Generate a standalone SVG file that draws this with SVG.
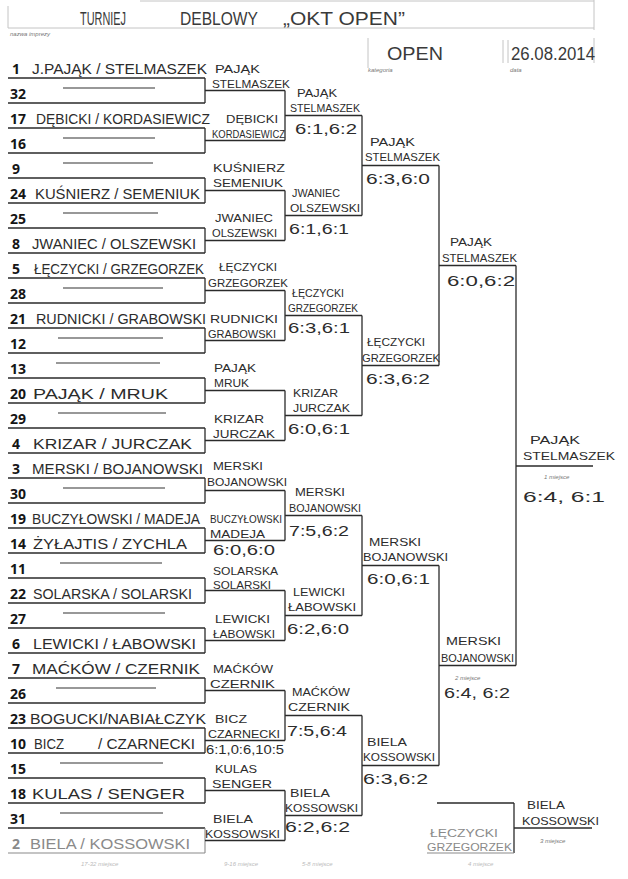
<svg xmlns="http://www.w3.org/2000/svg" width="628" height="879" viewBox="0 0 628 879">
<style>
.ln{stroke:#2b2b2b;stroke-width:1.3;fill:none}
.lg{stroke:#8a8a8a;stroke-width:1.1;fill:none}
.lf{stroke:#c4c4c4;stroke-width:1;fill:none}
.dash{stroke:#333;stroke-width:1.1}
text{font-family:"Liberation Sans","DejaVu Sans",sans-serif;fill:#2c2c2c}
.sd{font-family:"Open Sans","Liberation Sans",sans-serif;font-weight:bold;font-size:14px;fill:#151515}
.nm{font-size:14px}
.wl{font-size:11.5px}
.sc{font-size:15px}
.big{font-size:18px;fill:#3a3a3a}
.tiny{font-size:6px;font-style:italic;fill:#777}
.faint{font-size:6px;font-style:italic;fill:#bbb}
.gray{fill:#8a8a8a}
</style>
<g id="header">
<path class="lf" d="M140 1H594M8 6V28M8 28H594M594 0V30"/>
<text class="big" x="80" y="25" textLength="46" lengthAdjust="spacingAndGlyphs">TURNIEJ</text>
<text class="big" x="180" y="25" textLength="78" lengthAdjust="spacingAndGlyphs">DEBLOWY</text>
<text class="big" x="283" y="25" textLength="122" lengthAdjust="spacingAndGlyphs">„OKT OPEN”</text>
<text class="tiny" x="10" y="36">nazwa imprezy</text>
<path class="lf" d="M368 38V68M503 40V63M508 40V63M594 38V63"/>
<text class="big" x="387" y="60" textLength="56" lengthAdjust="spacingAndGlyphs">OPEN</text>
<text class="tiny" x="368" y="72">kategoria</text>
<text class="big" x="511" y="60" textLength="84" lengthAdjust="spacingAndGlyphs">26.08.2014</text>
<text class="tiny" x="510" y="72">data</text>
</g>
<g id="connectors">
<path class="ln" d="M8 78H205M8 103H205M8 128H205M8 153H205M8 178H205M8 203H205M8 228H205M8 253H205M8 278H205M8 303H205M8 328H205M8 353H205M8 378H205M8 403H205M8 428H205M8 453H205M8 478H205M8 503H205M8 528H205M8 553H205M8 578H205M8 603H205M8 628H205M8 653H205M8 678H205M8 703H205M8 728H205M8 753H205M8 778H205M8 803H205M8 828H205"/>
<path class="lg" d="M8 853H205M205 828V853"/>
<path class="ln" d="M205 78V103M205 128V153M205 178V203M205 228V253M205 278V303M205 328V353M205 378V403M205 428V453M205 478V503M205 528V553M205 578V603M205 628V653M205 678V703M205 728V753M205 778V803"/>
<path class="ln" d="M205 90.5H285M205 140.5H285M205 190.5H285M205 240.5H285M205 290.5H285M205 340.5H285M205 390.5H285M205 440.5H285M205 490.5H285M205 540.5H285M205 590.5H285M205 640.5H285M205 690.5H285M205 740.5H285M205 790.5H285M205 840.5H285"/>
<path class="ln" d="M285 90.5V140.5M285 190.5V240.5M285 290.5V340.5M285 390.5V440.5M285 490.5V540.5M285 590.5V640.5M285 690.5V740.5M285 790.5V840.5"/>
<path class="ln" d="M285 115.5H362M285 215.5H362M285 315.5H362M285 415.5H362M285 515.5H362M285 615.5H362M285 715.5H362M285 815.5H362"/>
<path class="ln" d="M362 115.5V215.5M362 315.5V415.5M362 515.5V615.5M362 715.5V815.5"/>
<path class="ln" d="M362 165.5H439M362 365.5H439M362 565.5H439M362 765.5H439"/>
<path class="ln" d="M439 165.5V365.5M439 565.5V765.5M439 265.5H516M439 665.5H516"/>
<path class="ln" d="M516 265.5V665.5M516 466H593"/>
<path class="ln" d="M437 803H514M514 803V853M514 828H592"/>
<path class="lg" d="M427 853H514"/>
<line class="dash" x1="63" y1="88" x2="155" y2="88"/>
<line class="dash" x1="63" y1="138" x2="155" y2="138"/>
<line class="dash" x1="63" y1="163" x2="153" y2="163"/>
<line class="dash" x1="63" y1="213" x2="158" y2="213"/>
<line class="dash" x1="63" y1="288" x2="163" y2="288"/>
<line class="dash" x1="58" y1="338" x2="163" y2="338"/>
<line class="dash" x1="56" y1="363" x2="160" y2="363"/>
<line class="dash" x1="58" y1="413" x2="166" y2="413"/>
<line class="dash" x1="63" y1="488" x2="165" y2="488"/>
<line class="dash" x1="60" y1="563" x2="162" y2="563"/>
<line class="dash" x1="63" y1="613" x2="165" y2="613"/>
<line class="dash" x1="56" y1="688" x2="156" y2="688"/>
<line class="dash" x1="60" y1="763" x2="163" y2="763"/>
<line class="dash" x1="60" y1="813" x2="163" y2="813"/>
</g>
<g id="entries">
<g id="e1"><text class="sd" x="12" y="74">1</text><text class="nm" x="32" y="74" textLength="175" lengthAdjust="spacingAndGlyphs">J.PAJĄK / STELMASZEK</text></g>
<g id="e32"><text class="sd" x="10" y="99">32</text></g>
<g id="e17"><text class="sd" x="10" y="124">17</text><text class="nm" x="36" y="124" textLength="174" lengthAdjust="spacingAndGlyphs">DĘBICKI / KORDASIEWICZ</text></g>
<g id="e16"><text class="sd" x="10" y="149">16</text></g>
<g id="e9"><text class="sd" x="12" y="174">9</text></g>
<g id="e24"><text class="sd" x="10" y="199">24</text><text class="nm" x="35" y="199" textLength="165" lengthAdjust="spacingAndGlyphs">KUŚNIERZ / SEMENIUK</text></g>
<g id="e25"><text class="sd" x="10" y="224">25</text></g>
<g id="e8"><text class="sd" x="12" y="249">8</text><text class="nm" x="32" y="249" textLength="164" lengthAdjust="spacingAndGlyphs">JWANIEC / OLSZEWSKI</text></g>
<g id="e5"><text class="sd" x="12" y="274">5</text><text class="nm" x="34" y="274" textLength="170" lengthAdjust="spacingAndGlyphs">ŁĘCZYCKI / GRZEGORZEK</text></g>
<g id="e28"><text class="sd" x="10" y="299">28</text></g>
<g id="e21"><text class="sd" x="10" y="324">21</text><text class="nm" x="36" y="324" textLength="170" lengthAdjust="spacingAndGlyphs">RUDNICKI / GRABOWSKI</text></g>
<g id="e12"><text class="sd" x="10" y="349">12</text></g>
<g id="e13"><text class="sd" x="10" y="374">13</text></g>
<g id="e20"><text class="sd" x="10" y="399">20</text><text class="nm" x="33" y="399" textLength="135" lengthAdjust="spacingAndGlyphs">PAJĄK / MRUK</text></g>
<g id="e29"><text class="sd" x="10" y="424">29</text></g>
<g id="e4"><text class="sd" x="12" y="449">4</text><text class="nm" x="33" y="449" textLength="159" lengthAdjust="spacingAndGlyphs">KRIZAR / JURCZAK</text></g>
<g id="e3"><text class="sd" x="12" y="474">3</text><text class="nm" x="32" y="474" textLength="171" lengthAdjust="spacingAndGlyphs">MERSKI / BOJANOWSKI</text></g>
<g id="e30"><text class="sd" x="10" y="499">30</text></g>
<g id="e19"><text class="sd" x="10" y="524">19</text><text class="nm" x="32" y="524" textLength="168" lengthAdjust="spacingAndGlyphs">BUCZYŁOWSKI / MADEJA</text></g>
<g id="e14"><text class="sd" x="10" y="549">14</text><text class="nm" x="33" y="549" textLength="154" lengthAdjust="spacingAndGlyphs">ŻYŁAJTIS / ZYCHLA</text></g>
<g id="e11"><text class="sd" x="10" y="574">11</text></g>
<g id="e22"><text class="sd" x="10" y="599">22</text><text class="nm" x="33" y="599" textLength="159" lengthAdjust="spacingAndGlyphs">SOLARSKA / SOLARSKI</text></g>
<g id="e27"><text class="sd" x="10" y="624">27</text></g>
<g id="e6"><text class="sd" x="12" y="649">6</text><text class="nm" x="33" y="649" textLength="163" lengthAdjust="spacingAndGlyphs">LEWICKI / ŁABOWSKI</text></g>
<g id="e7"><text class="sd" x="12" y="674">7</text><text class="nm" x="32" y="674" textLength="168" lengthAdjust="spacingAndGlyphs">MAĆKÓW / CZERNIK</text></g>
<g id="e26"><text class="sd" x="10" y="699">26</text></g>
<g id="e23"><text class="sd" x="10" y="724">23</text><text class="nm" x="30" y="724" textLength="176" lengthAdjust="spacingAndGlyphs">BOGUCKI/NABIAŁCZYK</text></g>
<g id="e10"><text class="sd" x="10" y="749">10</text><text class="nm" x="34" y="749" textLength="30" lengthAdjust="spacingAndGlyphs">BICZ</text><text class="nm" x="98" y="749" textLength="97" lengthAdjust="spacingAndGlyphs">/ CZARNECKI</text></g>
<g id="e15"><text class="sd" x="10" y="774">15</text></g>
<g id="e18"><text class="sd" x="10" y="799">18</text><text class="nm" x="32" y="799" textLength="153" lengthAdjust="spacingAndGlyphs">KULAS / SENGER</text></g>
<g id="e31"><text class="sd" x="10" y="824">31</text></g>
<g id="e2"><text class="sd gray" x="12" y="849">2</text><text class="nm gray" x="30" y="849" textLength="160" lengthAdjust="spacingAndGlyphs">BIELA / KOSSOWSKI</text></g>
</g>
<g id="round1">
<g id="r1m1"><text class="wl" x="215" y="73" textLength="45" lengthAdjust="spacingAndGlyphs">PAJĄK</text><text class="wl" x="212" y="88" textLength="78" lengthAdjust="spacingAndGlyphs">STELMASZEK</text></g>
<g id="r1m2"><text class="wl" x="226" y="123" textLength="52" lengthAdjust="spacingAndGlyphs">DĘBICKI</text><text class="wl" x="212" y="138" textLength="73" lengthAdjust="spacingAndGlyphs">KORDASIEWICZ</text></g>
<g id="r1m3"><text class="wl" x="213" y="172" textLength="72" lengthAdjust="spacingAndGlyphs">KUŚNIERZ</text><text class="wl" x="213" y="187" textLength="70" lengthAdjust="spacingAndGlyphs">SEMENIUK</text></g>
<g id="r1m4"><text class="wl" x="215" y="222" textLength="58" lengthAdjust="spacingAndGlyphs">JWANIEC</text><text class="wl" x="212" y="237" textLength="65" lengthAdjust="spacingAndGlyphs">OLSZEWSKI</text></g>
<g id="r1m5"><text class="wl" x="219" y="271" textLength="58" lengthAdjust="spacingAndGlyphs">ŁĘCZYCKI</text><text class="wl" x="208" y="287" textLength="80" lengthAdjust="spacingAndGlyphs">GRZEGORZEK</text></g>
<g id="r1m6"><text class="wl" x="210" y="323" textLength="68" lengthAdjust="spacingAndGlyphs">RUDNICKI</text><text class="wl" x="208" y="338" textLength="68" lengthAdjust="spacingAndGlyphs">GRABOWSKI</text></g>
<g id="r1m7"><text class="wl" x="214" y="372" textLength="42" lengthAdjust="spacingAndGlyphs">PAJĄK</text><text class="wl" x="214" y="387" textLength="35" lengthAdjust="spacingAndGlyphs">MRUK</text></g>
<g id="r1m8"><text class="wl" x="214" y="423" textLength="50" lengthAdjust="spacingAndGlyphs">KRIZAR</text><text class="wl" x="213" y="438" textLength="62" lengthAdjust="spacingAndGlyphs">JURCZAK</text></g>
<g id="r1m9"><text class="wl" x="213" y="470" textLength="50" lengthAdjust="spacingAndGlyphs">MERSKI</text><text class="wl" x="207" y="486" textLength="80" lengthAdjust="spacingAndGlyphs">BOJANOWSKI</text></g>
<g id="r1m10"><text class="wl" x="210" y="523" textLength="72" lengthAdjust="spacingAndGlyphs">BUCZYŁOWSKI</text><text class="wl" x="210" y="538" textLength="55" lengthAdjust="spacingAndGlyphs">MADEJA</text><text class="sc" x="213" y="555" textLength="62" lengthAdjust="spacingAndGlyphs">6:0,6:0</text></g>
<g id="r1m11"><text class="wl" x="213" y="575" textLength="65" lengthAdjust="spacingAndGlyphs">SOLARSKA</text><text class="wl" x="213" y="589" textLength="58" lengthAdjust="spacingAndGlyphs">SOLARSKI</text></g>
<g id="r1m12"><text class="wl" x="215" y="623" textLength="55" lengthAdjust="spacingAndGlyphs">LEWICKI</text><text class="wl" x="213" y="638" textLength="62" lengthAdjust="spacingAndGlyphs">ŁABOWSKI</text></g>
<g id="r1m13"><text class="wl" x="213" y="673" textLength="60" lengthAdjust="spacingAndGlyphs">MAĆKÓW</text><text class="wl" x="210" y="688" textLength="65" lengthAdjust="spacingAndGlyphs">CZERNIK</text></g>
<g id="r1m14"><text class="wl" x="215" y="723" textLength="32" lengthAdjust="spacingAndGlyphs">BICZ</text><text class="wl" x="208" y="738" textLength="72" lengthAdjust="spacingAndGlyphs">CZARNECKI</text><text class="wl" x="206" y="754" textLength="78" lengthAdjust="spacingAndGlyphs" style="font-size:13px">6:1,0:6,10:5</text></g>
<g id="r1m15"><text class="wl" x="215" y="773" textLength="42" lengthAdjust="spacingAndGlyphs">KULAS</text><text class="wl" x="212" y="788" textLength="60" lengthAdjust="spacingAndGlyphs">SENGER</text></g>
<g id="r1m16"><text class="wl" x="213" y="823" textLength="40" lengthAdjust="spacingAndGlyphs">BIELA</text><text class="wl" x="205" y="838" textLength="75" lengthAdjust="spacingAndGlyphs">KOSSOWSKI</text></g>
</g>
<g id="round2">
<g id="r2m1"><text class="wl" x="297" y="97" textLength="40" lengthAdjust="spacingAndGlyphs">PAJĄK</text><text class="wl" x="290" y="112" textLength="70" lengthAdjust="spacingAndGlyphs">STELMASZEK</text><text class="sc" x="295" y="134" textLength="62" lengthAdjust="spacingAndGlyphs">6:1,6:2</text></g>
<g id="r2m2"><text class="wl" x="292" y="197" textLength="48" lengthAdjust="spacingAndGlyphs">JWANIEC</text><text class="wl" x="290" y="212" textLength="70" lengthAdjust="spacingAndGlyphs">OLSZEWSKI</text><text class="sc" x="289" y="234" textLength="60" lengthAdjust="spacingAndGlyphs">6:1,6:1</text></g>
<g id="r2m3"><text class="wl" x="292" y="297" textLength="52" lengthAdjust="spacingAndGlyphs">ŁĘCZYCKI</text><text class="wl" x="288" y="312" textLength="70" lengthAdjust="spacingAndGlyphs">GRZEGORZEK</text><text class="sc" x="288" y="333" textLength="62" lengthAdjust="spacingAndGlyphs">6:3,6:1</text></g>
<g id="r2m4"><text class="wl" x="293" y="397" textLength="45" lengthAdjust="spacingAndGlyphs">KRIZAR</text><text class="wl" x="293" y="412" textLength="57" lengthAdjust="spacingAndGlyphs">JURCZAK</text><text class="sc" x="288" y="434" textLength="62" lengthAdjust="spacingAndGlyphs">6:0,6:1</text></g>
<g id="r2m5"><text class="wl" x="295" y="496" textLength="50" lengthAdjust="spacingAndGlyphs">MERSKI</text><text class="wl" x="289" y="512" textLength="72" lengthAdjust="spacingAndGlyphs">BOJANOWSKI</text><text class="sc" x="289" y="536" textLength="60" lengthAdjust="spacingAndGlyphs">7:5,6:2</text></g>
<g id="r2m6"><text class="wl" x="293" y="596" textLength="52" lengthAdjust="spacingAndGlyphs">LEWICKI</text><text class="wl" x="288" y="611" textLength="68" lengthAdjust="spacingAndGlyphs">ŁABOWSKI</text><text class="sc" x="287" y="634" textLength="62" lengthAdjust="spacingAndGlyphs">6:2,6:0</text></g>
<g id="r2m7"><text class="wl" x="292" y="696" textLength="58" lengthAdjust="spacingAndGlyphs">MAĆKÓW</text><text class="wl" x="288" y="711" textLength="62" lengthAdjust="spacingAndGlyphs">CZERNIK</text><text class="sc" x="287" y="736" textLength="60" lengthAdjust="spacingAndGlyphs">7:5,6:4</text></g>
<g id="r2m8"><text class="wl" x="290" y="797" textLength="40" lengthAdjust="spacingAndGlyphs">BIELA</text><text class="wl" x="285" y="812" textLength="73" lengthAdjust="spacingAndGlyphs">KOSSOWSKI</text><text class="sc" x="285" y="832" textLength="65" lengthAdjust="spacingAndGlyphs">6:2,6:2</text></g>
</g>
<g id="round3">
<g id="r3m1"><text class="wl" x="370" y="146" textLength="45" lengthAdjust="spacingAndGlyphs">PAJĄK</text><text class="wl" x="365" y="161" textLength="75" lengthAdjust="spacingAndGlyphs">STELMASZEK</text><text class="sc" x="366" y="184" textLength="64" lengthAdjust="spacingAndGlyphs">6:3,6:0</text></g>
<g id="r3m2"><text class="wl" x="367" y="346" textLength="58" lengthAdjust="spacingAndGlyphs">ŁĘCZYCKI</text><text class="wl" x="362" y="362" textLength="78" lengthAdjust="spacingAndGlyphs">GRZEGORZEK</text><text class="sc" x="366" y="384" textLength="64" lengthAdjust="spacingAndGlyphs">6:3,6:2</text></g>
<g id="r3m3"><text class="wl" x="369" y="546" textLength="52" lengthAdjust="spacingAndGlyphs">MERSKI</text><text class="wl" x="363" y="561" textLength="85" lengthAdjust="spacingAndGlyphs">BOJANOWSKI</text><text class="sc" x="367" y="584" textLength="63" lengthAdjust="spacingAndGlyphs">6:0,6:1</text></g>
<g id="r3m4"><text class="wl" x="367" y="746" textLength="40" lengthAdjust="spacingAndGlyphs">BIELA</text><text class="wl" x="363" y="761" textLength="72" lengthAdjust="spacingAndGlyphs">KOSSOWSKI</text><text class="sc" x="363" y="784" textLength="65" lengthAdjust="spacingAndGlyphs">6:3,6:2</text></g>
</g>
<g id="round4">
<g id="r4m1"><text class="wl" x="450" y="246" textLength="42" lengthAdjust="spacingAndGlyphs">PAJĄK</text><text class="wl" x="442" y="262" textLength="75" lengthAdjust="spacingAndGlyphs">STELMASZEK</text><text class="sc" x="447" y="286" textLength="68" lengthAdjust="spacingAndGlyphs">6:0,6:2</text></g>
<g id="r4m2"><text class="wl" x="446" y="645" textLength="55" lengthAdjust="spacingAndGlyphs">MERSKI</text><text class="wl" x="441" y="662" textLength="73" lengthAdjust="spacingAndGlyphs">BOJANOWSKI</text><text class="tiny" x="455" y="680">2 miejsce</text><text class="sc" x="444" y="698" textLength="66" lengthAdjust="spacingAndGlyphs">6:4, 6:2</text></g>
</g>
<g id="final"><text class="wl" x="530" y="444" textLength="50" lengthAdjust="spacingAndGlyphs">PAJĄK</text><text class="wl" x="523" y="460" textLength="92" lengthAdjust="spacingAndGlyphs">STELMASZEK</text><text class="tiny" x="544" y="479">1 miejsce</text><text class="sc" x="523" y="502" textLength="82" lengthAdjust="spacingAndGlyphs">6:4, 6:1</text></g>
<g id="third">
<text class="wl" x="527" y="809" textLength="38" lengthAdjust="spacingAndGlyphs">BIELA</text><text class="wl" x="522" y="825" textLength="77" lengthAdjust="spacingAndGlyphs">KOSSOWSKI</text><text class="tiny" x="540" y="843">3 miejsce</text>
<text class="wl gray" x="430" y="837" textLength="68" lengthAdjust="spacingAndGlyphs">ŁĘCZYCKI</text><text class="wl gray" x="427" y="851" textLength="85" lengthAdjust="spacingAndGlyphs">GRZEGORZEK</text>
</g>
<g id="footer">
<text class="faint" x="81" y="866">17-32 miejsce</text>
<text class="faint" x="224" y="866">9-16 miejsce</text>
<text class="faint" x="302" y="866">5-8 miejsce</text>
<text class="faint" x="468" y="866">4 miejsce</text>
</g>
</svg>
